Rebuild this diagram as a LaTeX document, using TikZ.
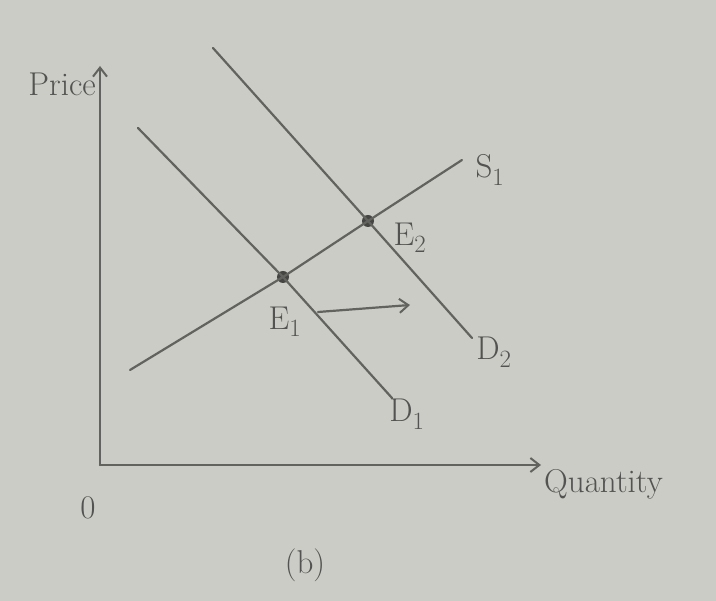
\documentclass[tikz,border=0pt]{standalone}
\usetikzlibrary{arrows.meta}
\definecolor{paper}{RGB}{204,204,199}
\definecolor{pencil}{RGB}{98,98,95}
\tikzset{
  pline/.style={draw=pencil, line width=2.2pt, line cap=round},
  lbl/.style={text=pencil!85!black, font=\fontsize{33}{38}\selectfont, inner sep=1pt},
  eqpt/.style={circle, fill=pencil!70!black, inner sep=0pt, minimum size=12pt},
  tipopen/.style={-{Straight Barb[length=9pt,width=14pt,line width=2pt]}}
}
\begin{document}
\begin{tikzpicture}[x=1pt,y=-1pt]
\fill[paper] (0,0) rectangle (716,601);
\useasboundingbox (0,0) rectangle (716,601);
% axes
\coordinate (O) at (100,465);
\coordinate (ytop) at (100,66);
\coordinate (xend) at (541,465);
\draw[pline,tipopen] (O) -- (ytop);
\draw[pline,tipopen] (O) -- (xend);
% points
\node[eqpt] (E1) at (283,277) {};
\node[eqpt] (E2) at (368,221) {};
% supply
\coordinate (s0) at (130,370);
\coordinate (s1) at (462,160);
\draw[pline] (s0) -- (E1.center) -- (E2.center) -- (s1);
% demand 1
\coordinate (d10) at (138,128);
\coordinate (d11) at (392,398);
\draw[pline] (d10) -- (E1.center) -- (d11);
% demand 2
\coordinate (d20) at (213,48);
\coordinate (d21) at (472,338);
\draw[pline] (d20) -- (E2.center) -- (d21);
% shift arrow
\coordinate (a0) at (318,312);
\coordinate (a1) at (410,305);
\draw[pline,tipopen] (a0) -- (a1);
% labels
\node[lbl,anchor=east] (price) at (97,84) {Price};
\node[lbl] (zero) at (88,508) {0};
\node[lbl,anchor=west] (qty) at (543,484) {Quantity};
\node[lbl] (S1) at (490,170) {S$_1$};
\node[lbl] (E2l) at (410,238) {E$_2$};
\node[lbl] (E1l) at (285,322) {E$_1$};
\node[lbl] (D1l) at (407,414) {D$_1$};
\node[lbl] (D2l) at (494,352) {D$_2$};
\node[lbl] (b) at (305,565) {(b)};
\end{tikzpicture}
\end{document}
